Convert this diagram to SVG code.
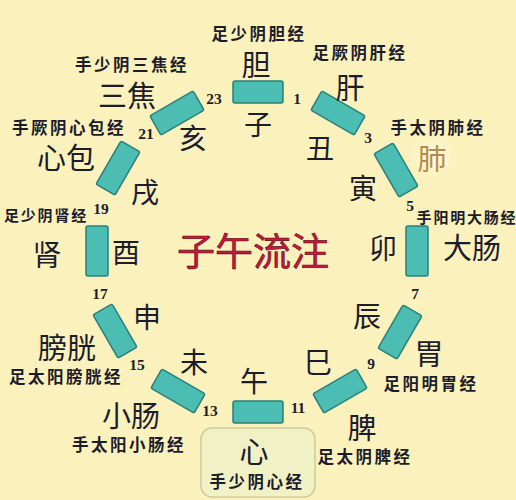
<svg xmlns="http://www.w3.org/2000/svg" xmlns:xlink="http://www.w3.org/1999/xlink" width="516" height="500" viewBox="0 0 516 500">
<style>
text{font-family:"Noto Sans CJK SC","Noto Sans CJK TC",sans-serif;text-anchor:middle;dominant-baseline:central;fill:#1c1c2a}
.big{font-size:29px}
.br{font-size:28px}
.mer{font-size:16.5px;font-weight:bold;letter-spacing:2.5px}
.sm{font-size:15px;letter-spacing:1.8px}
.num{font-family:"Liberation Serif","DejaVu Serif",serif;font-size:15.5px;font-weight:bold}
.title{font-size:38px;fill:#c8183c;stroke:#5a0a1a;stroke-width:0.6}
.seg{fill:#4bbdb3;stroke:#2b8079;stroke-width:1.5}
</style>
<defs>
<rect id="seg" x="-25" y="-11" width="50" height="22" rx="2"/>
<radialGradient id="glow" cx="0.5" cy="0.5" r="0.5">
<stop offset="0" stop-color="#fffbe6" stop-opacity="0.9"/>
<stop offset="0.6" stop-color="#fff6d4" stop-opacity="0.5"/>
<stop offset="1" stop-color="#fbf1bd" stop-opacity="0"/>
</radialGradient>
</defs>
<rect width="516" height="500" fill="#faf1bc"/>
<g id="title"><text class="title" x="253" y="248">子午流注</text></g>

<g id="dan">
<use xlink:href="#seg" class="seg" transform="translate(258,92)"/>
<text class="mer" x="259" y="33">足少阴胆经</text>
<text class="big" x="256" y="63">胆</text>
<text class="br" x="258" y="123">子</text>
</g>
<g id="gan">
<use xlink:href="#seg" class="seg" transform="translate(338,113) rotate(30)"/>
<text class="mer" x="360" y="52">足厥阴肝经</text>
<text class="big" x="350" y="86">肝</text>
<text class="br" x="320" y="147">丑</text>
</g>
<g id="fei">
<use xlink:href="#seg" class="seg" transform="translate(396,170) rotate(60)"/>
<text class="mer" x="438" y="127">手太阴肺经</text>
<ellipse cx="432" cy="157" rx="28" ry="24" fill="url(#glow)"/>
<text class="big" x="432" y="157" style="fill:#b48c4c">肺</text>
<text class="br" x="363" y="187">寅</text>
</g>
<g id="dachang">
<use xlink:href="#seg" class="seg" transform="translate(417,251) rotate(90)"/>
<text class="mer sm" x="467" y="216">手阳明大肠经</text>
<text class="big" x="472" y="246">大肠</text>
<text class="br" x="383" y="247">卯</text>
</g>
<g id="wei">
<use xlink:href="#seg" class="seg" transform="translate(400,332) rotate(120)"/>
<text class="mer" x="431" y="383">足阳明胃经</text>
<text class="big" x="429" y="352">胃</text>
<text class="br" x="367" y="315">辰</text>
</g>
<g id="pi">
<use xlink:href="#seg" class="seg" transform="translate(340,391) rotate(150)"/>
<text class="mer" x="365" y="456">足太阴脾经</text>
<text class="big" x="362" y="426">脾</text>
<text class="br" x="318" y="361">巳</text>
</g>
<g id="xin">
<use xlink:href="#seg" class="seg" transform="translate(258,412)"/>
<rect x="201" y="428" width="114" height="69" rx="11" fill="#f1f1c6" stroke="#cdcb98" stroke-width="1.5"/>
<text class="big" x="254" y="450">心</text>
<text class="mer" x="257" y="481">手少阴心经</text>
<text class="br" x="254" y="380">午</text>
</g>
<g id="xiaochang">
<use xlink:href="#seg" class="seg" transform="translate(178,391) rotate(210)"/>
<text class="big" x="131" y="414">小肠</text>
<text class="mer" x="129" y="444">手太阳小肠经</text>
<text class="br" x="194" y="361">未</text>
</g>
<g id="pangguang">
<use xlink:href="#seg" class="seg" transform="translate(115,331) rotate(240)"/>
<text class="big" x="67" y="346">膀胱</text>
<text class="mer" x="66" y="376">足太阳膀胱经</text>
<text class="br" x="147" y="316">申</text>
</g>
<g id="shen">
<use xlink:href="#seg" class="seg" transform="translate(97,251) rotate(270)"/>
<text class="mer sm" x="46" y="214">足少阴肾经</text>
<text class="big" x="47" y="253">肾</text>
<text class="br" x="126" y="251">酉</text>
</g>
<g id="xinbao">
<use xlink:href="#seg" class="seg" transform="translate(118,168) rotate(300)"/>
<text class="mer" x="69" y="127">手厥阴心包经</text>
<text class="big" x="66" y="156">心包</text>
<text class="br" x="145" y="191">戌</text>
</g>
<g id="sanjiao">
<use xlink:href="#seg" class="seg" transform="translate(177,113) rotate(330)"/>
<text class="mer" x="132" y="64">手少阴三焦经</text>
<text class="big" x="127" y="94">三焦</text>
<text class="br" x="193" y="137">亥</text>
</g>

<g id="hours">
<text class="num" x="297" y="98">1</text>
<text class="num" x="368" y="137">3</text>
<text class="num" x="410" y="205">5</text>
<text class="num" x="415" y="293">7</text>
<text class="num" x="371" y="363">9</text>
<text class="num" x="298" y="407">11</text>
<text class="num" x="210" y="410">13</text>
<text class="num" x="137" y="364">15</text>
<text class="num" x="100" y="293">17</text>
<text class="num" x="101" y="208">19</text>
<text class="num" x="146" y="133">21</text>
<text class="num" x="214" y="98">23</text>
</g>
</svg>
